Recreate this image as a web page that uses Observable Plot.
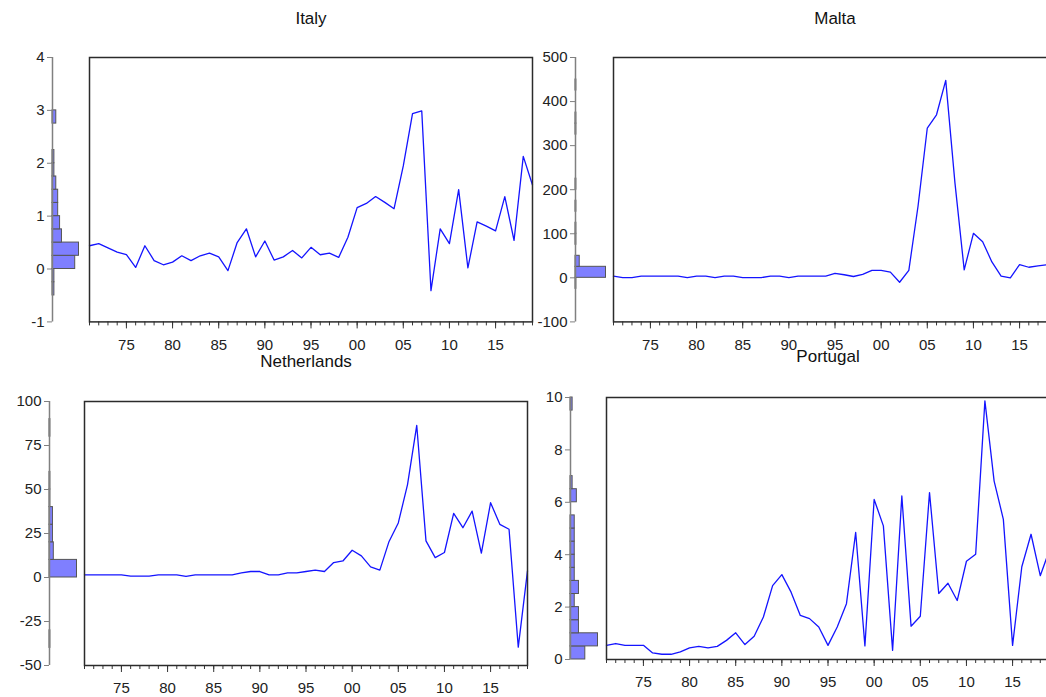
<!DOCTYPE html>
<html><head><meta charset="utf-8">
<script src="https://cdn.jsdelivr.net/npm/d3@7"></script>
<script src="https://cdn.jsdelivr.net/npm/@observablehq/plot@0.6"></script>
<style>
html,body{margin:0;padding:0;background:#fff;}
#chart{position:relative;width:1046px;height:697px;overflow:hidden;background:#fff;}
#chart svg{position:absolute;max-width:none;}
</style></head><body><div id="chart"></div>
<script>
// ---------- data ----------
const years = d3.range(1971, 2020);
const countries = ["Italy", "Malta", "Netherlands", "Portugal"];
const italy = [0.44,0.48,0.40,0.32,0.27,0.03,0.44,0.16,0.08,0.13,
  0.25,0.16,0.25,0.30,0.23,-0.03,0.50,0.76,0.23,0.53,
  0.17,0.23,0.35,0.21,0.41,0.27,0.30,0.22,0.60,1.16,
  1.24,1.37,1.26,1.14,1.95,2.94,2.99,-0.41,0.76,0.48,
  1.50,0.02,0.89,0.81,0.72,1.37,0.54,2.13,1.59];
const malta = [4,0.5,0.5,4,4,4,4,4,0.5,4,
  4,0.5,4,4,0.5,0.5,0.5,4,4,0.5,
  4,4,4,4,10,7,3,8,17,17,
  13,-10,17,163,340,370,448,215,18,101,
  82,36,4,0,30,24,27,30,32];
const netherlands = [1.5,1.5,1.5,1.5,1.5,0.8,0.8,0.8,1.5,1.5,
  1.5,0.6,1.5,1.5,1.5,1.5,1.5,2.6,3.4,3.4,
  1.5,1.5,2.6,2.6,3.4,4.2,3.4,8.5,9.4,15.5,
  12.3,6,4.2,20.5,31,52.8,86.4,20.8,11.3,14.2,
  36.4,28.3,37.7,13.8,42.5,30.2,27.4,-39.6,3.8];
const portugal = [0.54,0.61,0.54,0.54,0.54,0.25,0.2,0.2,0.29,0.44,
  0.5,0.44,0.5,0.73,1.02,0.57,0.89,1.62,2.82,3.24,
  2.57,1.68,1.56,1.24,0.54,1.24,2.13,4.85,0.52,6.11,
  5.1,0.35,6.24,1.27,1.65,6.37,2.52,2.91,2.25,3.75,
  4.02,9.87,6.81,5.35,0.54,3.54,4.78,3.2,4.18];
const series = [italy, malta, netherlands, portugal];
const yTicksItaly = [-1,0,1,2,3,4];
const yTicksMalta = [-100,0,100,200,300,400,500];
const yTicksNetherlands = [-50,-25,0,25,50,75,100];
const yTicksPortugal = [0,2,4,6,8,10];
const yTicks = [yTicksItaly, yTicksMalta, yTicksNetherlands, yTicksPortugal];
const binSteps = [0.25, 25, 10, 0.5];
const majorYears = [1975,1980,1985,1990,1995,2000,2005,2010,2015];
const majorLabels = ["75","80","85","90","95","00","05","10","15"];

// ---------- layout ----------
const layout = [
  {axisX: 52,    frameL: 88.5, top: 57.3,  bottom: 321.7, barMax: 27, titleDy: -39},
  {axisX: 575,   frameL: 613,  top: 57.3,  bottom: 321.7, barMax: 31, titleDy: -39},
  {axisX: 49,    frameL: 84,   top: 401,   bottom: 665,   barMax: 28, titleDy: -40},
  {axisX: 569.5, frameL: 606,  top: 397.3, bottom: 659.3, barMax: 28, titleDy: -41}
];
const frameW = 443;
const font = "'Liberation Sans', Arial, sans-serif";
const chart = document.getElementById("chart");

function place(svg, left, top) {
  svg.style.left = left + "px";
  svg.style.top = top + "px";
  chart.appendChild(svg);
}

series.forEach((vals, i) => {
  const L = layout[i];
  const ticks = yTicks[i];
  const yMin = ticks[0], yMax = ticks[ticks.length - 1];
  const H = L.bottom - L.top;

  // line panel
  const mL = 6, mR = 6, mT = 50, mB = 34;
  const data = years.map((y, k) => ({year: y, value: vals[k]}));
  const line = Plot.plot({
    width: frameW + mL + mR, height: H + mT + mB,
    marginLeft: mL, marginRight: mR, marginTop: mT, marginBottom: mB,
    x: {domain: [1971, 2019], label: null},
    y: {domain: [yMin, yMax], axis: null},
    style: {fontFamily: font, fontSize: "15px", color: "#222", background: "transparent", overflow: "visible"},
    marks: [
      Plot.axisX({ticks: years, tickSize: 4, tickFormat: () => "", stroke: "#333", label: null}),
      Plot.axisX({ticks: majorYears, tickSize: 7, tickPadding: 10, stroke: "#333", label: null,
        tickFormat: d => majorLabels[majorYears.indexOf(d)]}),
      Plot.line(data, {x: "year", y: "value", stroke: "#1414ff", strokeWidth: 1.3}),
      Plot.frame({stroke: "#2b2b2b", strokeWidth: 1.5}),
      Plot.text([countries[i]], {frameAnchor: "top", lineAnchor: "middle", dy: L.titleDy, fontSize: 17, fill: "#111"})
    ]
  });
  place(line, L.frameL - mL, L.top - mT);

  // histogram panel
  const step = binSteps[i];
  const bins = d3.bin().domain([yMin, yMax])
    .thresholds(d3.range(yMin + step, yMax - step / 2, step))(vals)
    .filter(b => b.length > 0)
    .map(b => ({y1: b.x0, y2: b.x1, count: b.length}));
  const maxC = d3.max(bins, d => d.count);
  const hL = 60, hT = 12, hB = 12;
  const hist = Plot.plot({
    width: hL + L.barMax + 4, height: H + hT + hB,
    marginLeft: hL, marginRight: 4, marginTop: hT, marginBottom: hB,
    x: {domain: [0, maxC], range: [hL, hL + L.barMax - 0.5], axis: null},
    y: {domain: [yMin, yMax], label: null},
    style: {fontFamily: font, fontSize: "15px", color: "#222", background: "transparent", overflow: "visible"},
    marks: [
      Plot.rectX(bins, {x: "count", y1: "y1", y2: "y2", fill: "#7f7fff", stroke: "#555", strokeWidth: 1, inset: 0}),
      Plot.ruleX([0], {y1: yMin, y2: yMax, stroke: "#808080", strokeWidth: 1.5}),
      Plot.axisY({ticks: ticks, tickSize: 5, tickPadding: 3, stroke: "#808080", label: null, tickFormat: d => String(d)})
    ]
  });
  place(hist, L.axisX - hL, L.top - hT);
});
</script></body></html>
